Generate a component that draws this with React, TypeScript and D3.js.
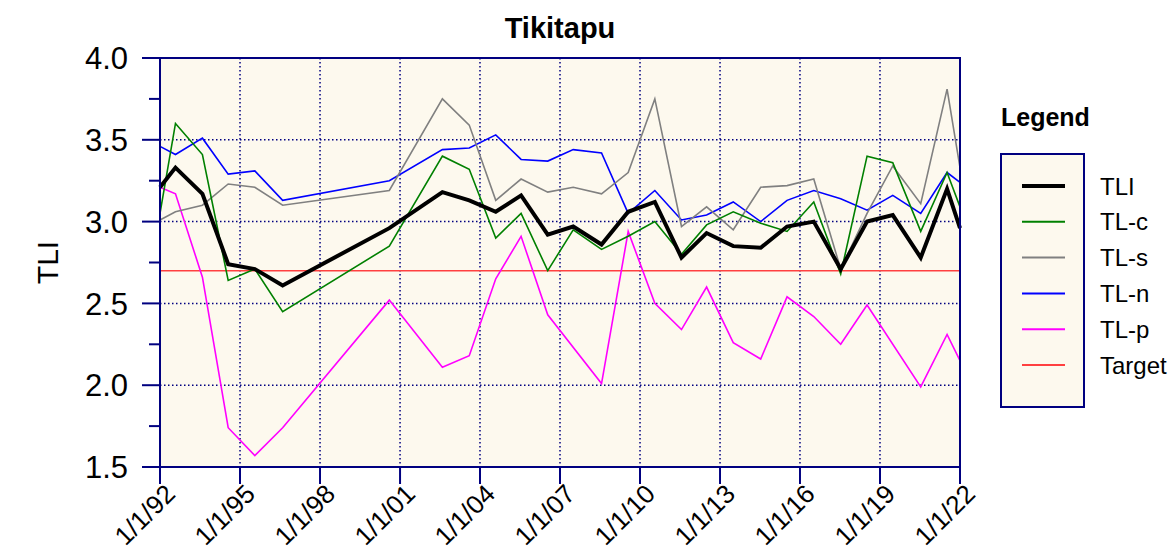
import React from 'react';
import * as d3 from 'd3';

// sample dates (annual means, plotted mid-year); first and last are the plot edges
const sampleDates = [
  '1992-01-01', '1992-07-31', '1993-08-04', '1994-07-23', '1995-07-23', '1996-08-07',
  '2000-08-07', '2002-08-04', '2003-08-07', '2004-08-04', '2005-07-17', '2006-07-17',
  '2007-07-01', '2008-07-23', '2009-07-23', '2010-07-23', '2011-07-23', '2012-07-01',
  '2013-07-01', '2014-07-12', '2015-07-08', '2016-07-08', '2017-07-12', '2018-07-08',
  '2019-06-25', '2020-07-12', '2021-07-08', '2022-01-01'
];

const tli = [3.21, 3.33, 3.17, 2.74, 2.71, 2.61, 2.96, 3.18, 3.13, 3.06, 3.16, 2.92,
  2.97, 2.86, 3.06, 3.12, 2.78, 2.93, 2.85, 2.84, 2.97, 3.0, 2.71, 3.0, 3.04, 2.78, 3.2, 2.96];
const tlc = [3.05, 3.6, 3.41, 2.64, 2.71, 2.45, 2.85, 3.4, 3.32, 2.9, 3.05, 2.7,
  2.95, 2.83, 2.91, 3.0, 2.8, 2.98, 3.06, 2.99, 2.94, 3.12, 2.68, 3.4, 3.36, 2.94, 3.3, 3.09];
const tls = [3.01, 3.06, 3.1, 3.23, 3.21, 3.1, 3.19, 3.75, 3.59, 3.13, 3.26, 3.18,
  3.21, 3.17, 3.3, 3.75, 2.97, 3.09, 2.95, 3.21, 3.22, 3.26, 2.71, 3.05, 3.34, 3.11, 3.81, 3.33];
const tln = [3.46, 3.41, 3.51, 3.29, 3.31, 3.13, 3.25, 3.44, 3.45, 3.53, 3.38, 3.37,
  3.44, 3.42, 3.05, 3.19, 3.01, 3.04, 3.12, 3.0, 3.13, 3.19, 3.14, 3.07, 3.16, 3.05, 3.3, 3.24];
const tlp = [3.21, 3.17, 2.66, 1.74, 1.57, 1.74, 2.52, 2.11, 2.18, 2.65, 2.91, 2.43,
  null, 2.01, 2.94, 2.5, 2.34, 2.6, 2.26, 2.16, 2.54, 2.42, 2.25, 2.49, null, 1.99, 2.31, 2.15];
const target = 2.7;

const yMajorTicks = [1.5, 2.0, 2.5, 3.0, 3.5, 4.0];
const yMinorTicks = [1.75, 2.25, 2.75, 3.25, 3.75];
const xTickYears = [1992, 1995, 1998, 2001, 2004, 2007, 2010, 2013, 2016, 2019, 2022];

const seriesList = [
  { name: 'TLI', values: tli, color: '#000000', width: 4 },
  { name: 'TL-c', values: tlc, color: '#008000', width: 1.6 },
  { name: 'TL-s', values: tls, color: '#808080', width: 1.6 },
  { name: 'TL-n', values: tln, color: '#0000FF', width: 1.6 },
  { name: 'TL-p', values: tlp, color: '#FF00FF', width: 1.6 },
];

const FONT = '"Liberation Sans", Arial, sans-serif';
const NAVY = '#000080';
const CREAM = '#FDF9EE';

export default function App() {
  const W = 1176, H = 555;
  const left = 160, right = 960, top = 58, bottom = 467;

  const parse = d3.timeParse('%Y-%m-%d');
  const dates = sampleDates.map(d => parse(d) as Date);

  const x = d3.scaleTime()
    .domain([new Date(1992, 0, 1), new Date(2022, 0, 1)])
    .range([left, right]);
  const y = d3.scaleLinear().domain([1.5, 4.0]).range([bottom, top]);

  const line = d3.line<[Date, number]>()
    .x(d => x(d[0]))
    .y(d => y(d[1]));

  const fmt = (yr: number) => `1/1/${String(yr % 100).padStart(2, '0')}`;

  // draw order: thin series first, TLI on top
  const drawOrder = [seriesList[4], seriesList[3], seriesList[2], seriesList[1], seriesList[0]];

  const legendItems = [...seriesList.map(s => ({ name: s.name, color: s.color, width: s.width === 4 ? 4 : 2 })),
    { name: 'Target', color: '#FF4040', width: 2 }];

  return (
    <svg width={W} height={H} style={{ position: 'absolute', left: 0, top: 0, background: '#fff' }}
      fontFamily={FONT}>
      <text x={(left + right) / 2} y={38} textAnchor="middle" fontSize={29} fontWeight="bold">Tikitapu</text>

      {/* plot background */}
      <rect x={left} y={top} width={right - left} height={bottom - top} fill={CREAM} />

      {/* gridlines */}
      {yMajorTicks.filter(t => t > 1.5 && t < 4.0).map(t => (
        <line key={'gy' + t} x1={left} x2={right} y1={y(t)} y2={y(t)}
          stroke={NAVY} strokeWidth={1.5} strokeDasharray="1.5,2.5" />
      ))}
      {xTickYears.filter(yr => yr > 1992 && yr < 2022).map(yr => (
        <line key={'gx' + yr} x1={x(new Date(yr, 0, 1))} x2={x(new Date(yr, 0, 1))} y1={top} y2={bottom}
          stroke={NAVY} strokeWidth={1.5} strokeDasharray="1.5,2.5" />
      ))}

      {/* target */}
      <line x1={left} x2={right} y1={y(target)} y2={y(target)} stroke="#FF4040" strokeWidth={1.6} />

      {/* series */}
      {drawOrder.map(s => {
        const pts = dates.map((d, i) => [d, s.values[i]] as [Date, number | null])
          .filter(p => p[1] != null) as [Date, number][];
        return (
          <path key={s.name} d={line(pts) || ''} fill="none" stroke={s.color}
            strokeWidth={s.width} strokeLinejoin="miter" />
        );
      })}

      {/* frame */}
      <rect x={left} y={top} width={right - left} height={bottom - top} fill="none" stroke={NAVY} strokeWidth={2} />

      {/* y axis ticks and labels */}
      {yMajorTicks.map(t => (
        <g key={'yt' + t}>
          <line x1={left - 18} x2={left} y1={y(t)} y2={y(t)} stroke={NAVY} strokeWidth={2} />
          <text x={left - 32} y={y(t)} dy="0.36em" textAnchor="end" fontSize={31}>{t.toFixed(1)}</text>
        </g>
      ))}
      {yMinorTicks.map(t => (
        <line key={'ym' + t} x1={left - 11} x2={left} y1={y(t)} y2={y(t)} stroke={NAVY} strokeWidth={2} />
      ))}

      {/* x axis ticks and labels */}
      {xTickYears.map(yr => {
        const px = x(new Date(yr, 0, 1));
        return (
          <g key={'xt' + yr}>
            <line x1={px} x2={px} y1={bottom} y2={bottom + 17} stroke={NAVY} strokeWidth={2} />
            <text transform={`translate(${px + 10},${bottom + 22}) rotate(-45)`} dy="0.36em"
              textAnchor="end" fontSize={26}>{fmt(yr)}</text>
          </g>
        );
      })}

      <text transform={`translate(58,${(top + bottom) / 2}) rotate(-90)`} textAnchor="middle"
        fontSize={30}>TLI</text>

      {/* legend */}
      <text x={1001} y={126} fontSize={25} fontWeight="bold">Legend</text>
      <rect x={1001} y={154} width={83} height={253} fill={CREAM} stroke={NAVY} strokeWidth={2} />
      {legendItems.map((it, i) => {
        const ly = 186 + i * 35.8;
        return (
          <g key={'lg' + it.name}>
            <line x1={1022} x2={1065} y1={ly} y2={ly} stroke={it.color} strokeWidth={it.width} />
            <text x={1100} y={ly} dy="0.36em" fontSize={24}>{it.name}</text>
          </g>
        );
      })}
    </svg>
  );
}
